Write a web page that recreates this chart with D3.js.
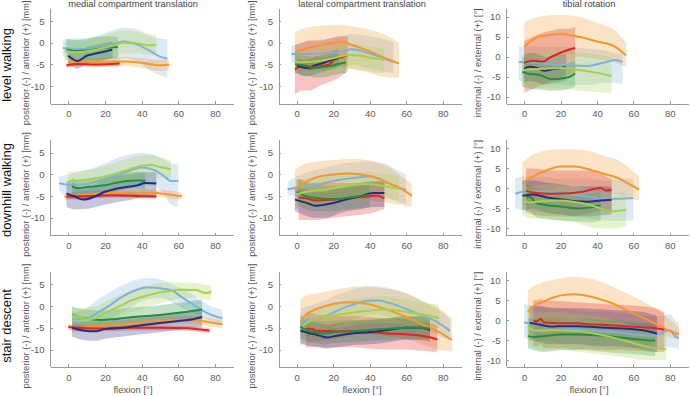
<!DOCTYPE html>
<html>
  <head>
    <meta charset="utf-8" />
    <title>Knee kinematics</title>
    <script src="https://d3js.org/d3.v7.min.js"></script>
    <style>
      body {
        margin: 0;
        background: #fff;
      }
      svg {
        font-family: "Liberation Sans", Arial, sans-serif;
      }
      .axis path,
      .axis line {
        stroke: #9a9a9a;
        stroke-width: 1;
        shape-rendering: crispEdges;
      }
      .axis text {
        fill: #5a5a5a;
        font-size: 9.5px;
      }
      .line {
        fill: none;
        stroke-width: 2;
      }
    </style>
  </head>
  <body>
    <div id="chart"></div>
    <script>
      // categories and labels
      const conditions = ["level walking", "downhill walking", "stair descent"];
      const measures = [
        "medial compartment translation",
        "lateral compartment translation",
        "tibial rotation",
      ];
      const yLabels = [
        "posterior (-) / anterior (+) [mm]",
        "posterior (-) / anterior (+) [mm]",
        "internal (-) / external (+) [°]",
      ];
      const xTicks = [0, 20, 40, 60, 80];
      const yTicksTrans = [-10, -5, 0, 5];
      const yTicksRot = [-10, -5, 0, 5, 10];

      // series order: light blue, orange, red, navy, dark green, light green
      const seriesColors = ["#7eb1d9", "#f2982c", "#e0261c", "#2a2b80", "#21903c", "#a7d04c"];

      // each point: [flexion, mean, lower, upper]
      const levelMedial = [
        [[-3,-1.2,-3.2,0.8],[5,-1.5,-4,1],[15,-1.2,-4.5,1.5],[25,-0.3,-4.5,3],[30,0.3,-3.5,3.5],[38,-0.5,-4.5,3],[45,-2,-6.5,1.5],[50,-3.2,-7.5,1],[54,-3.7,-8,0.8]],
        [[0,-4.5,-5.5,-3.5],[10,-4.4,-5.3,-3.5],[20,-4.4,-5.3,-3.3],[30,-4.3,-5.3,-3.3],[40,-4.6,-5.8,-3.5],[50,-5.2,-6.5,-4],[55,-5.1,-6.3,-3.8]],
        [[-1,-5.2,-5.8,-4.6],[5,-4.9,-5.5,-4.3],[15,-5,-5.6,-4.4],[28,-4.8,-5.4,-4.2]],
        [[0,-3,-4.5,-1.5],[5,-4.2,-6,-2.5],[10,-3,-4.8,-1],[15,-2.5,-4.5,-0.5],[20,-2,-4,0],[24,-1.6,-3.5,0.3]],
        [[-1,-1.6,-4,1],[5,-1.9,-4.2,0.6],[10,-1.8,-4,0.8],[15,-1.5,-4,1.3],[20,-1.2,-3.8,1.5],[27,-1,-3.5,1.3]],
        [[-2,-1.9,-4,0.3],[5,-2.2,-4.5,0],[15,-1.6,-4,1],[25,-0.6,-3.5,2.5],[30,0,-2.5,2.8],[38,-0.2,-2.5,2.5],[45,-0.6,-2.8,2],[48,-0.5,-2.5,1.8]],
      ];
      const levelLateral = [
        [[-3,-2.6,-4.5,-0.8],[5,-2.6,-5.5,0.2],[15,-2.4,-5.5,0.8],[25,-2,-5.5,1.5],[30,-1.5,-5,2],[40,-2.5,-6,1.5],[50,-4,-6.8,0.5],[53,-4.5,-7,0]],
        [[-1,-2.2,-7,2.5],[10,-0.8,-6.5,3.8],[20,0,-6,4],[25,0.2,-5.5,4],[30,-0.5,-6,3.8],[40,-2,-7,3],[50,-3.8,-8,1.5],[56,-4.8,-8,0]],
        [[-1,-6.2,-12,-0.5],[3,-5.3,-11,0],[7,-6,-11,0.5],[12,-5.5,-10,0.5],[18,-5,-9,1],[21,-3.6,-8.5,1.3],[25,-3.3,-7.5,1.5],[28,-2.8,-6.5,1.5]],
        [[0,-5.2,-7,-3.4],[5,-5.8,-7.8,-4],[10,-5.2,-7.2,-3.2],[15,-4.6,-6.7,-2.7],[20,-3.8,-6,-1.8],[23,-3.5,-5.5,-1.5]],
        [[-1,-4.9,-7,-2.5],[5,-5.3,-7.5,-3],[10,-5.8,-8,-3.5],[15,-5.6,-8,-3.3],[20,-5.2,-7.5,-3],[27,-4.5,-7,-2.3]],
        [[-1,-4.5,-7,-2],[10,-4.3,-7,-1.5],[20,-3.6,-6.5,-0.8],[28,-2.8,-6,0],[35,-3,-6.3,-0.5],[42,-3.6,-6.8,-1],[48,-4,-7,-1.3]],
      ];
      const levelRotation = [
        [[-3,-1.3,-6,2.5],[5,-1.5,-6.5,2.5],[20,-2,-7,2.5],[35,-2.3,-7,2],[45,-1.3,-6.5,1.5],[50,-0.8,-6.5,1],[54,-1.3,-7,0.5]],
        [[0,2.5,-4,8.5],[8,5,-1,10],[20,5.7,1,10.5],[30,5,0,10],[40,3.8,-0.5,8.5],[50,2.5,-1.5,6.5],[56,0.3,-2.5,3.5]],
        [[0,-1.5,-9,4],[5,-1,-8,5],[10,-1.2,-7,6],[15,0,-6,6.5],[20,1,-5,7],[24,1.7,-4.5,7],[28,2.2,-4,7.5]],
        [[0,-3,-6.5,0.5],[3,-2.5,-6,1],[7,-2.8,-6.3,0.8],[11,-3.5,-7,0],[16,-3.1,-6.5,0.3],[23,-2.6,-6,0.8]],
        [[-1,-3.8,-7.5,0],[3,-4.3,-8,-0.5],[8,-4.5,-8.2,-0.8],[15,-5.6,-8.5,-2],[22,-5.3,-8.3,-2],[25,-5,-8,-1.5],[28,-4.2,-7.5,-1]],
        [[-1,-3.3,-7.5,0.5],[10,-3,-8,1.5],[20,-2.8,-8,1.5],[30,-3.3,-8.5,1],[40,-4,-8.8,0.5],[48,-4.8,-9,0]],
      ];
      const downhillMedial = [
        [[-5,-2,-3.5,-0.5],[0,-2.4,-5.5,0],[10,-2.2,-6,1],[20,-1,-4.5,2.5],[28,0,-3.5,4],[35,1.1,-2.8,4.7],[40,1.6,-2.5,5],[47,1,-2.8,4.5],[52,-0.3,-4.5,3.5],[56,-1.5,-7,2.5],[60,-1.5,-7.5,2.3]],
        [[-2,-5.2,-6,-4.4],[5,-4.8,-5.6,-4],[15,-4.5,-5.4,-3.7],[30,-4.2,-5,-3.4],[45,-4.2,-5,-3.4],[55,-4.6,-5.5,-3.7],[62,-5,-5.8,-4.2]],
        [[-1,-5.1,-5.6,-4.6],[10,-5,-5.5,-4.5],[25,-4.8,-5.3,-4.3],[40,-5,-5.5,-4.5],[48,-5.1,-5.6,-4.6]],
        [[-1,-4.4,-7.5,-1.5],[3,-5,-8,-2],[8,-5.8,-8,-3.2],[15,-5,-7.5,-2.2],[20,-4,-7,-1],[25,-3.4,-6.5,-0.5],[32,-2.9,-6,0],[38,-2.5,-5.5,0.3],[42,-2,-5,0.5],[48,-2.1,-5,0.5]],
        [[2,-2.7,-4.5,-0.8],[5,-3.2,-5,-1.3],[10,-2.9,-4.8,-1],[20,-2.5,-4.5,-0.3],[25,-2,-4,0],[32,-1.5,-3.5,0.5],[38,-1.4,-3.3,0.6],[42,-1.5,-3.5,0.5]],
        [[0,-1.5,-3.5,0.5],[10,-1.2,-3.3,1],[20,-0.5,-2.8,2],[30,0.7,-2,3.3],[40,2,-0.8,4.5],[45,2.2,-0.5,4.5],[50,1.7,-0.8,4],[56,1.2,-1,3.2]],
      ];
      const downhillLateral = [
        [[-5,-3.4,-4.8,-1.7],[0,-3,-5,-0.5],[10,-2.5,-6,1],[20,-1.5,-5.5,2],[30,-0.9,-5,2.8],[40,-0.5,-4.5,3],[48,-1.5,-5,2.5],[55,-3,-6.3,1],[60,-3.6,-7,0]],
        [[-1,-3.6,-8,1],[5,-1.7,-7,2.5],[12,-0.5,-6.5,3],[20,0,-6,3.3],[28,0.2,-5.5,3.6],[35,0,-5.5,3.5],[42,-0.6,-6,3],[50,-2,-6.5,1.8],[56,-3,-7,0],[63,-4.9,-7.5,-2]],
        [[1,-5.3,-10.5,-1],[5,-5.5,-10.5,-1.5],[10,-6,-10.5,-2],[20,-5.8,-10,-2],[30,-5.4,-9.5,-2],[40,-5,-9,-1.8],[44,-4.9,-8.5,-1.8],[48,-5.5,-8,-2]],
        [[-1,-5.8,-8.5,-3],[5,-6.5,-9.5,-3.5],[10,-7.2,-10,-4],[15,-7,-10,-4],[20,-6.6,-9.5,-3.5],[27,-5.8,-8.5,-3],[35,-5,-8,-2],[42,-4.3,-7.5,-1.5],[48,-4.3,-7.5,-1.5]],
        [[0,-4,-7,-1],[5,-5,-8,-2],[12,-5.5,-8.5,-2.5],[20,-5.7,-8.5,-2.8],[28,-5.4,-8,-2.5],[35,-5,-7.8,-2.2],[40,-4.7,-7.5,-2]],
        [[0,-4.6,-7.5,-1.5],[5,-4,-7,-1],[15,-3.5,-6.5,-0.5],[22,-3,-6,0],[30,-2.5,-5.5,0.3],[38,-2.2,-5,0.5],[45,-2.5,-5.3,0.3],[52,-3,-5.8,0],[56,-3.2,-6,-0.5]],
      ];
      const downhillRotation = [
        [[-5,-1.3,-5,2.5],[0,-0.8,-5.5,3],[10,-0.7,-6,3],[20,-1.2,-6.5,2.5],[35,-2,-7.5,2.5],[45,-2.6,-8,2],[55,-2.5,-8,2.5],[60,-2.4,-8,2.5]],
        [[-1,1.3,-5,6.5],[5,3,-3,8.5],[12,4.5,-1.5,9.5],[20,5.5,0.5,9.8],[28,5.5,0.5,9.8],[36,4.7,0,9.3],[45,3.5,-1,8],[52,2.5,-1.5,7],[58,1,-2.5,5],[63,-0.3,-3,3]],
        [[1,-0.6,-6,5],[5,-1,-6.5,5],[15,-1.3,-7,4.5],[25,-1.2,-7,4.5],[32,-0.8,-6.5,4.5],[38,-0.2,-6,4.5],[42,0.2,-5.5,4],[45,-0.5,-6,3],[48,-0.4,-6,2.5]],
        [[-1,-1.8,-5.5,2],[5,-1.5,-5,2],[12,-2.2,-6,1.5],[20,-2.7,-6.5,1],[28,-3.2,-7,0.5],[35,-3.3,-7,0.5],[42,-3,-6.8,0.5],[48,-2.8,-6.5,0.5]],
        [[1,-2.1,-5.5,1],[4,-2.3,-6,0.8],[6,-3.5,-7,0],[10,-4,-7.5,-0.5],[20,-4.5,-8,-1],[30,-5,-8.3,-1.5],[36,-4.8,-8.5,-1.3],[42,-4.2,-8,-0.8]],
        [[-1,-2.8,-6.5,1],[3,-3.5,-7.5,0.5],[10,-3.2,-7.5,1],[20,-3,-8,1],[28,-3.4,-8.5,0.5],[35,-4,-9.5,0],[42,-5,-10,-0.5],[48,-5.7,-10,-1],[56,-5.4,-9.5,-1]],
      ];
      const stairMedial = [
        [[2,-3.1,-5,-1.5],[10,-2.9,-5,-0.5],[16,-1.5,-4.5,1.5],[22,0,-3,3],[28,1.8,-1.8,4.5],[35,3.4,0,5.8],[43,4.3,1.5,6.5],[50,4.1,2,6.2],[57,3.5,0.8,5],[62,2,-0.5,4],[68,0.4,-1.5,2.5],[73,-1,-2.5,1],[78,-2,-3.5,0],[84,-2.8,-4.5,-0.8]],
        [[2,-5,-6,-4],[10,-4.8,-5.8,-3.8],[20,-4.5,-5.5,-3.5],[30,-4.2,-5.2,-3.2],[40,-3.8,-4.8,-2.8],[50,-3.4,-4.4,-2.4],[60,-3.2,-4.2,-2.2],[70,-3.3,-4.3,-2.3],[78,-3.8,-4.8,-2.8],[84,-4.2,-5.2,-3.2]],
        [[0,-4.8,-5.5,-4.2],[10,-5.1,-5.8,-4.5],[20,-5.2,-5.8,-4.6],[35,-5,-5.6,-4.4],[50,-5,-5.6,-4.4],[65,-5.1,-5.7,-4.5],[72,-5.4,-6,-4.8],[77,-5.6,-6.2,-5]],
        [[2,-5,-7,-3.5],[8,-5.6,-7.8,-3.5],[15,-5.8,-8,-3.5],[20,-5.3,-7.5,-3],[30,-5,-7,-2.8],[40,-4.4,-6.5,-2.3],[50,-3.9,-6,-1.8],[60,-3.4,-5.5,-1.3],[68,-3,-5,-1],[73,-2.5,-4.8,-0.5]],
        [[2,-1.9,-4,0],[5,-2.5,-4.5,-0.5],[10,-2.9,-4.8,-0.8],[18,-3.2,-5,-1],[25,-3,-5,-0.8],[35,-2.5,-4.5,-0.3],[45,-2.2,-4.3,0],[55,-1.8,-4,0.5],[65,-1.3,-3.5,1],[73,-0.8,-3,1.5]],
        [[2,-2,-4,-0.3],[5,-2.5,-4.3,-0.5],[10,-3,-4.5,-0.3],[15,-2.8,-4.5,0],[20,-1.6,-4,1],[28,0,-2.5,2.5],[35,1.4,-1.3,3.8],[45,2.7,0,5],[55,3.5,1.2,5.5],[62,3.8,1.8,5.5],[70,3.7,2,5.3],[75,3,1.5,4.8],[78,3.3,1.5,5]],
      ];
      const stairLateral = [
        [[2,-3.5,-7,-0.5],[10,-3,-6.5,0.5],[15,-2.5,-6,1.3],[20,-1.5,-5,2.3],[25,-0.5,-4,3],[32,0.5,-3,4],[40,1.3,-2,4.5],[45,1.3,-2,4.5],[50,0.8,-2.5,4.2],[56,0,-3.5,3.5],[62,-1,-4.5,2.5],[68,-2,-5.2,1.3],[74,-3,-6,0],[80,-4.5,-7.2,-1.5],[84,-5.7,-8,-3]],
        [[2,-3.6,-9,1.5],[5,-2,-8.5,2.5],[12,-0.5,-8,3],[20,0.5,-7.5,3.7],[28,0.9,-7,4.3],[35,0.8,-6.5,4.5],[42,0.2,-6.5,4.4],[50,-0.9,-7,4],[60,-2.5,-7.5,3],[70,-4.5,-9,1],[78,-6,-10,-0.5],[85,-7.8,-10.5,-3]],
        [[5,-5.2,-9.5,-1.5],[8,-5.2,-9.5,-1.5],[11,-5.7,-9.5,-2],[20,-5.8,-9.5,-2.2],[30,-5.8,-9.5,-2.3],[40,-6,-9.8,-2.5],[50,-6.3,-10,-2.8],[60,-6.5,-10,-3],[68,-6.8,-10.3,-3.5],[74,-7.3,-10.5,-4],[77,-7.7,-10.5,-4.5]],
        [[2,-5.6,-8.5,-3],[5,-6,-9,-3.3],[10,-6.5,-9.3,-3.8],[17,-7.2,-9.8,-4.3],[22,-6.8,-9.5,-4],[30,-6.3,-9,-3.5],[40,-6,-8.8,-3.2],[50,-5.5,-8.3,-2.8],[60,-5,-7.8,-2.3],[68,-5,-7.8,-2.3],[73,-5.5,-8.3,-3]],
        [[2,-4.8,-7.5,-2],[5,-5.5,-8,-2.8],[10,-6,-8.5,-3.3],[15,-6.3,-8.8,-3.5],[20,-6,-8.5,-3.3],[30,-5.8,-8.3,-3.2],[40,-5.5,-8,-3],[50,-5.2,-7.8,-2.8],[60,-5,-7.5,-2.5],[68,-5,-7.5,-2.5],[73,-5.2,-7.6,-2.7]],
        [[3,-4.5,-7,-2],[10,-3,-6,-0.5],[15,-2.5,-5.5,0],[22,-2,-5,0.8],[30,-1.5,-4.5,1.5],[40,-1,-4,2],[48,-0.8,-4,2.2],[55,-1,-4,1.8],[62,-1.5,-4.5,1.3],[70,-2,-4.5,0.8],[78,-2.8,-5,0.3]],
      ];
      const stairRotation = [
        [[0,-0.5,-4.5,4],[5,-1,-5,3.8],[15,-1.4,-5.5,3.3],[25,-2,-6,2.8],[35,-2.5,-6.5,2.3],[50,-3,-7,2],[60,-3.5,-7,1.5],[70,-3.9,-7.3,1],[75,-3.3,-7,1],[80,-2.5,-6.8,1.5],[83,-4,-7,0],[85,-4.5,-7.5,-0.5]],
        [[2,2,-4,7.5],[5,3.5,-3,8.5],[10,4.5,-2,9.5],[15,5.5,-1,10],[20,6.2,0,10.5],[28,6.5,0.5,10.8],[32,6.3,0.3,10.7],[40,5.5,-0.5,10],[48,4.3,-1,8.5],[55,2.8,-1.5,7],[62,1.3,-2,5.5],[68,0,-2.5,4],[74,-1.3,-3.5,2.5],[78,-2.3,-4,1],[82,-3,-4.5,-0.5],[85,-3.6,-5,-2]],
        [[5,-0.2,-6.5,5],[7,-0.3,-6.5,5],[9,0.3,-6,5.3],[11,-0.6,-7,5],[20,-0.8,-7,4.8],[28,-0.8,-7.3,4.5],[35,-1,-7.3,4.3],[45,-1.2,-7.5,4],[55,-1.5,-7.5,3.8],[65,-1.8,-7.8,3.5],[72,-2,-8,3],[77,-2.4,-8,2]],
        [[3,-0.7,-5,3.5],[8,-1.1,-5.5,3.5],[15,-1.6,-6,3],[22,-1.5,-6,3],[30,-1.5,-6,3],[40,-1.8,-6.5,2.8],[50,-2,-6.5,2.5],[60,-2.3,-7,2.3],[66,-2.6,-7.5,2],[73,-3.4,-8,1]],
        [[2,-4,-7,0.5],[5,-4.2,-7.5,0.3],[10,-4,-8,0.5],[15,-3.8,-7.8,0.5],[20,-3.6,-7.5,0.5],[30,-3.6,-7.5,0.5],[40,-3.8,-7.8,0.3],[50,-4.2,-8.2,0],[60,-4.7,-8.5,-0.5],[67,-5,-8.8,-0.8],[72,-5.1,-9,-1]],
        [[2,-1.7,-6,2.5],[5,-2.5,-7,2],[10,-2.6,-7.5,2],[20,-2.5,-7.5,2],[30,-2.8,-8,1.5],[40,-3.5,-8.5,1],[50,-4.5,-9,0],[58,-5.5,-9.5,-1],[65,-6.4,-10,-2],[72,-7,-10,-3],[78,-7.3,-10,-3.5]],
      ];

      const panels = [
        [levelMedial, levelLateral, levelRotation],
        [downhillMedial, downhillLateral, downhillRotation],
        [stairMedial, stairLateral, stairRotation],
      ];

      //layout of the 3x3 grid (pixel positions of the axes)
      const colLeft = [50, 278.5, 506];
      const colRight = [233.3, 461, 688];
      const rowTop = [8, 139.7, 271.4];
      const rowBottom = [103.5, 235.2, 366.9];
      const colLabelX = [28.5, 255, 481];
      const colCenter = [133, 362, 589];
      const rowTitleY = [65, 190, 326];

      const svg = d3
        .select("#chart")
        .append("svg")
        .attr("width", 690)
        .attr("height", 396);

      panels.forEach((row, r) => {
        row.forEach((series, c) => {
          const x = d3.scaleLinear().domain([-10, 90]).range([colLeft[c], colRight[c]]);
          const y = d3
            .scaleLinear()
            .domain(c === 2 ? [-11.7, 12.2] : [-14, 8])
            .range([rowBottom[r], rowTop[r]]);

          const g = svg.append("g");

          const area = d3
            .area()
            .x((d) => x(d[0]))
            .y0((d) => y(d[2]))
            .y1((d) => y(d[3]))
            .curve(d3.curveMonotoneX);

          const line = d3
            .line()
            .x((d) => x(d[0]))
            .y((d) => y(d[1]))
            .curve(d3.curveMonotoneX);

          //shaded bands first, then mean lines on top
          g.selectAll(".band")
            .data(series)
            .join("path")
            .attr("class", "band")
            .attr("d", area)
            .attr("fill", (d, i) => seriesColors[i])
            .attr("fill-opacity", 0.27);

          g.selectAll(".line")
            .data(series)
            .join("path")
            .attr("class", "line")
            .attr("d", line)
            .attr("stroke", (d, i) => seriesColors[i]);

          //axes
          g.append("g")
            .attr("class", "axis")
            .attr("transform", `translate(0,${rowBottom[r]})`)
            .call(
              d3.axisBottom(x).tickValues(xTicks).tickSizeInner(-2.5).tickSizeOuter(0).tickPadding(7)
                .tickFormat((d) => String(d))
            );

          g.append("g")
            .attr("class", "axis")
            .attr("transform", `translate(${colLeft[c]},0)`)
            .call(
              d3.axisLeft(y)
                .tickValues(c === 2 ? yTicksRot : yTicksTrans)
                .tickSizeInner(-2.5)
                .tickSizeOuter(0)
                .tickPadding(5.5)
                .tickFormat((d) => String(d))
            );

          //y-axis label
          g.append("text")
            .attr("transform", `translate(${colLabelX[c]},${(rowTop[r] + rowBottom[r]) / 2 + 7}) rotate(-90)`)
            .attr("text-anchor", "middle")
            .attr("font-size", "9.3px")
            .attr("fill", "#555")
            .text(yLabels[c]);

          if (r === 0) {
            g.append("text")
              .attr("x", colCenter[c])
              .attr("y", 6.5)
              .attr("text-anchor", "middle")
              .attr("font-size", "9.3px")
              .attr("fill", "#444")
              .text(measures[c]);
          }
          if (r === 2) {
            g.append("text")
              .attr("x", colCenter[c])
              .attr("y", 393)
              .attr("text-anchor", "middle")
              .attr("font-size", "9.5px")
              .attr("fill", "#555")
              .text("flexion [°]");
          }
        });

        //row title
        svg
          .append("text")
          .attr("transform", `translate(10.5,${rowTitleY[r]}) rotate(-90)`)
          .attr("text-anchor", "middle")
          .attr("font-size", "13px")
          .attr("fill", "#111")
          .text(conditions[r]);
      });
    </script>
  </body>
</html>
